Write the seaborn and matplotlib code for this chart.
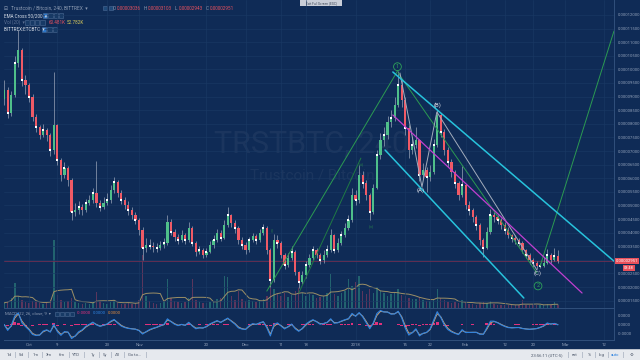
import numpy as np
import pandas as pd
import matplotlib
matplotlib.use("Agg")
import matplotlib.pyplot as plt
import matplotlib.transforms as mtransforms
from matplotlib.patches import Rectangle
import seaborn as sns

# ---------------- data (prices in satoshi = 1e-8 BTC, daily bars) ----------------
dates = pd.date_range("2017-09-24", "2018-02-27", freq="D")
day = (dates - pd.Timestamp("2017-10-01")).days.values

open_sat = [8900, 9240, 8400, 9060, 10240, 10710, 9610,
            9430, 8990, 8250, 7880, 7590, 7770, 7590, 7040, 7960, 6670,
            6120, 6380, 5930, 4760, 4830, 4940, 4830, 5090, 5200, 5460,
            5090, 4940, 5090, 5200, 5570, 5860, 5460, 5200, 5020, 4830,
            4650, 4460, 4100, 3440, 3550, 3520, 3470, 3450, 3550, 3620,
            4390, 4020, 3840, 3730, 3910, 3730, 4170, 3620, 3290, 3360,
            3180, 3290, 3550, 3730, 3990, 3800, 4280, 4650, 4350, 4170,
            3730, 3550, 3360, 3730, 3880, 3730, 3990, 4170, 3360, 2260,
            3730, 3620, 3180, 2810, 3070, 3290, 2550, 2180, 2440, 2810,
            3070, 3360, 3180, 2990, 3180, 3360, 3910, 3360, 3620, 3910,
            4170, 4460, 5380, 5200, 6120, 5820, 5380, 4760, 5640, 6850,
            7400, 7590, 8070, 8210, 8690, 9430, 8880, 7850, 7040, 7220,
            7400, 6120, 6300, 6050, 6230, 7220, 8320, 7700, 7040, 6600,
            6230, 5820, 5380, 5750, 5020, 4830, 4570, 4280, 3730, 3440,
            4020, 4650, 4570, 4460, 4280, 4100, 3910, 3800, 3730, 3620,
            3360, 3180, 2990, 2880, 2770, 2790, 2880, 3180, 2990, 3140]
close_sat = [9240, 8400, 9060, 10240, 10710, 9610, 9430,
             8990, 8250, 7880, 7590, 7770, 7590, 7040, 7960, 6670, 6120,
             6380, 5930, 4760, 4830, 4940, 4830, 5090, 5200, 5460, 5090,
             4940, 5090, 5200, 5570, 5860, 5460, 5200, 5020, 4830, 4650,
             4460, 4100, 3440, 3550, 3520, 3470, 3450, 3550, 3620, 4390,
             4020, 3840, 3730, 3910, 3730, 4170, 3620, 3290, 3360, 3180,
             3290, 3550, 3730, 3990, 3800, 4280, 4650, 4350, 4170, 3730,
             3550, 3360, 3730, 3880, 3730, 3990, 4170, 3360, 2260, 3730,
             3620, 3180, 2810, 3070, 3290, 2550, 2180, 2440, 2810, 3070,
             3360, 3180, 2990, 3180, 3360, 3910, 3360, 3620, 3910, 4170,
             4460, 5380, 5200, 6120, 5820, 5380, 4760, 5640, 6850, 7400,
             7590, 8070, 8210, 8690, 9430, 8880, 7850, 7040, 7220, 7400,
             6120, 6300, 6050, 6230, 7220, 8320, 7700, 7040, 6600, 6230,
             5820, 5380, 5750, 5020, 4830, 4570, 4280, 3730, 3440, 4020,
             4650, 4570, 4460, 4280, 4100, 3910, 3800, 3730, 3620, 3360,
             3180, 2990, 2880, 2770, 2790, 2880, 3180, 2990, 3140, 2951]
high_sat = [9600, 9350, 9200, 10500, 11450, 10800, 9800,
            9500, 9100, 8350, 7950, 8000, 7850, 7650, 9900, 8000, 6750,
            6600, 6450, 6000, 5100, 5150, 5050, 5250, 5400, 5650, 6640,
            5200, 5300, 5450, 5750, 6050, 5950, 5550, 5300, 5150, 4950,
            4750, 4550, 4200, 3800, 3750, 3650, 3620, 3700, 3800, 4650,
            4500, 4150, 3950, 4100, 4000, 4400, 4250, 3700, 3500, 3450,
            3450, 3700, 3900, 4150, 4100, 4450, 4950, 4700, 4450, 4250,
            3850, 3650, 3850, 4000, 3950, 4150, 4300, 4250, 3450, 3950,
            3900, 3700, 3250, 3250, 3500, 3350, 2600, 2600, 2950, 3200,
            3500, 3450, 3250, 3350, 3550, 4150, 3950, 3800, 4050, 4350,
            4650, 5650, 5550, 6500, 6250, 5950, 5450, 5800, 7050, 7650,
            7900, 8300, 8500, 9000, 9950, 9600, 9000, 7950, 7500, 7900,
            7450, 6550, 6400, 6500, 7450, 8500, 8400, 7800, 7150, 6700,
            6300, 5900, 6450, 5800, 5150, 4900, 4650, 4350, 3800, 4200,
            4850, 4750, 4650, 4550, 4400, 4200, 3950, 3900, 3800, 3700,
            3400, 3250, 3050, 2950, 2900, 3100, 3400, 3250, 3450, 3350]
low_sat = [8700, 8200, 8300, 9000, 10100, 9400, 9100,
           8800, 8100, 7700, 7450, 7500, 7350, 6800, 6900, 6500, 5900,
           6000, 5700, 4450, 4600, 4700, 4650, 4750, 5000, 5100, 4950,
           4800, 4850, 5000, 5100, 5450, 5300, 5050, 4850, 4650, 4500,
           4300, 3900, 2990, 3300, 3400, 3300, 3300, 3350, 3450, 3550,
           3900, 3700, 3600, 3650, 3600, 3650, 3500, 3150, 3200, 3050,
           3100, 3250, 3450, 3650, 3700, 3750, 4200, 4200, 4000, 3600,
           3400, 3200, 3300, 3650, 3600, 3650, 3900, 3200, 2000, 2200,
           3450, 3050, 2650, 2750, 3000, 2450, 1970, 2100, 2350, 2750,
           3000, 3050, 2850, 2900, 3100, 3300, 3250, 3300, 3550, 3850,
           4100, 4400, 5000, 5100, 5650, 5200, 4450, 4700, 5600, 6700,
           7200, 7450, 7900, 8100, 8600, 8600, 7600, 6750, 6900, 7100,
           5900, 6000, 5500, 5900, 6150, 7150, 7500, 6850, 6400, 6050,
           5650, 5200, 5300, 4850, 4650, 4400, 4100, 3550, 3100, 3400,
           3950, 4400, 4300, 4150, 3950, 3800, 3650, 3600, 3500, 3250,
           3050, 2850, 2750, 2650, 2700, 2750, 2850, 2900, 2950, 2900]
volume_k = [60, 80, 120, 290, 140, 90, 70,
            60, 80, 70, 60, 50, 70, 90, 800, 150, 90,
            70, 80, 120, 70, 60, 50, 60, 50, 70, 190,
            80, 60, 50, 70, 90, 60, 50, 50, 60, 50,
            60, 90, 620, 140, 80, 60, 50, 60, 70, 340,
            120, 80, 70, 60, 70, 120, 340, 90, 70, 60,
            60, 70, 80, 100, 120, 370, 360, 140, 90, 200,
            100, 80, 90, 80, 70, 90, 100, 140, 300, 220,
            160, 140, 180, 130, 150, 200, 240, 170, 140, 160,
            150, 120, 130, 140, 180, 400, 160, 140, 180, 200,
            340, 260, 300, 370, 200, 160, 220, 180, 240, 200,
            170, 140, 160, 180, 220, 150, 140, 120, 100, 110,
            130, 90, 80, 80, 100, 220, 120, 90, 70, 60,
            70, 60, 90, 60, 50, 50, 40, 60, 70, 60,
            80, 50, 40, 40, 40, 30, 40, 30, 40, 90,
            40, 30, 40, 40, 30, 40, 50, 30, 70, 40]

price_ticks = [1500, 2000, 2500, 3000, 3500, 4000, 4500, 5000, 5500, 6000, 6500,
               7000, 7500, 8000, 8500, 9000, 9500, 10000, 10500, 11000, 11500, 12000]
time_tick_days = [0, 8, 22, 31, 50, 61, 71, 78, 92, 106, 113, 123, 134, 142, 151, 162]
time_tick_labels = ["Oct", "9", "23", "Nov", "20", "Dec", "11", "18", "2018",
                    "15", "22", "Feb", "12", "20", "Mar", "12"]

# drawing tools (day, satoshi anchors)
wave1_day, wave1_sat = [67, 104], [1850, 9980]
sub_day, sub_sat = [76, 93.5], [1780, 6740]
wave2_day, wave2_sat = [104, 143.1], [9868, 2516]
proj_day, proj_sat = [144, 164.8], [2773, 11411]
abc_day, abc_sat = [104.5, 110.7, 114.9, 143.1], [9868, 5677, 8434, 2625]
chan_up_day, chan_up_sat = [102.5, 164.8], [9904, 2951]
chan_lo_day, chan_lo_sat = [100.3, 139.4], [7037, 1597]
mid_day, mid_sat = [102.5, 155.8], [8324, 1780]

# ---------------- style ----------------
sns.set_theme(style="dark")
plt.rcParams["font.family"] = ["Roboto", "DejaVu Sans"]
BG = "#0f2b56"
GRID = "#1a3964"
AXC = "#8f9fb8"
UP, DOWN, WICK = "#4fbf8a", "#ef5a66", "#9aa4b8"

W, H = 640, 360
fig = plt.figure(figsize=(6.4, 3.6), dpi=100, facecolor=BG)

def frect(x0, y0, x1, y1):
    return [x0 / W, 1 - y1 / H, (x1 - x0) / W, (y1 - y0) / H]

def ftext(x, y, s, **kw):
    kw.setdefault("va", "center")
    kw.setdefault("fontsize", 3.3)
    return fig.text(x / W, 1 - y / H, s, **kw)

ax = fig.add_axes(frect(4, 0, 614, 308))
axv = ax.twinx()
ax.set_zorder(2)
axv.set_zorder(1)
ax.patch.set_visible(False)
axv.patch.set_visible(False)

o = np.array(open_sat, float); c = np.array(close_sat, float)
h = np.array(high_sat, float); l = np.array(low_sat, float)
vol = np.array(volume_k, float)
up = c >= o
col = np.where(up, UP, DOWN)

# volume (overlay) with its moving average
axv.bar(day, vol, width=0.4, color=np.where(up, "#2f8a80", "#8e3f62"), alpha=0.6, linewidth=0)
vol_ma = pd.Series(vol).rolling(6, min_periods=1).mean()
sns.lineplot(x=day, y=vol_ma.values, ax=axv, color="#9c8f66", lw=0.7)
axv.set_ylim(0, 3600)
axv.set_yticks([]); axv.set_ylabel("")
for s in axv.spines.values():
    s.set_visible(False)

# watermark
ax.text(0.505, 1 - 144 / 308, "TRSTBTC, 240", transform=ax.transAxes, ha="center", va="center",
        fontsize=22, color="white", alpha=0.05, zorder=0)
ax.text(0.505, 1 - 176 / 308, "Trustcoin / Bitcoin", transform=ax.transAxes, ha="center", va="center",
        fontsize=11, color="white", alpha=0.05, zorder=0)

# current price line
ax.axhline(close_sat[-1], color="#6e2f52", lw=0.6, zorder=1)

# candles
ax.vlines(day, l, h, color=WICK, lw=0.5, zorder=3)
ax.bar(day, np.maximum(np.abs(c - o), 20), bottom=np.minimum(o, c), width=0.62,
       color=col, linewidth=0, zorder=4)
ax.scatter(day[1::2], c[1::2], s=0.9, marker="s", color="white", zorder=5, linewidths=0)

# drawings
ax.plot(wave1_day, wave1_sat, color="#2b9a52", lw=0.7, zorder=6)
ax.plot(sub_day, sub_sat, color="#1f7a45", lw=0.7, zorder=6)
ax.plot(wave2_day, wave2_sat, color="#2b9a52", lw=0.7, zorder=6)
ax.plot(proj_day, proj_sat, color="#2b9a52", lw=0.7, zorder=6)
ax.plot(abc_day, abc_sat, color="#a3adbd", lw=0.7, zorder=6)
ax.plot(chan_up_day, chan_up_sat, color="#27c3dc", lw=1.1, zorder=6)
ax.plot(chan_lo_day, chan_lo_sat, color="#27c3dc", lw=1.1, zorder=6)
ax.plot(mid_day, mid_sat, color="#c13fd0", lw=0.9, zorder=6)

circ = dict(boxstyle="circle,pad=0.25", fc=BG, ec="#2ea35a", lw=0.6)
ax.text(103.8, 10100, "1", color="#2ea35a", fontsize=4, ha="center", va="center", bbox=circ, zorder=7)
ax.text(143.4, 2040, "2", color="#2ea35a", fontsize=4, ha="center", va="center", bbox=circ, zorder=7)
for dd, ss, t in [(110.4, 5550, "(A)"), (115.2, 8690, "(B)"), (143.4, 2520, "(C)")]:
    ax.text(dd, ss, t, color="#d8dde6", fontsize=4.3, ha="center", va="center", zorder=7)
for dd, ss, t in [(68.7, 4096, "(i)"), (93.5, 6520, "(iii)"), (96.3, 4240, "(iv)")]:
    ax.text(dd, ss, t, color="#2a8a4c", fontsize=2.6, ha="center", va="center", zorder=7)

ax.set_xlim(-7.04, 164.8)
ax.set_ylim(1229, 12551)
ax.set_xticks(time_tick_days)
ax.set_xticklabels([])
ax.set_yticks(price_ticks)
ax.yaxis.tick_right()
last_tick_hidden = 3000  # covered by the last-price badge
ax.yaxis.set_major_formatter(matplotlib.ticker.FuncFormatter(
    lambda v, p: "" if abs(v - last_tick_hidden) < 1 else f"{v * 1e-8:.8f}"))
ax.tick_params(axis="y", labelsize=3, colors=AXC, length=0, pad=2.5)
ax.tick_params(axis="x", length=0)
ax.grid(True, color=GRID, lw=0.45)
for k, s in ax.spines.items():
    s.set_visible(k in ("right", "bottom"))
    s.set_color("#31507c"); s.set_linewidth(0.7)

# ---------------- MACD pane (12/26/9 on 4h bars = 2/4.33/1.5 days) ----------------
ax2 = fig.add_axes(frect(4, 309, 614, 340), facecolor=BG)
cs = pd.Series(c)
macd = cs.ewm(span=2, adjust=False).mean() - cs.ewm(span=26 / 6, adjust=False).mean()
signal = macd.ewm(span=1.5, adjust=False).mean()
hist = macd - signal
ax2.bar(day, hist.values, width=0.8, color="#e0317c", linewidth=0, zorder=2)
sns.lineplot(x=day, y=signal.values, ax=ax2, color="#c9a277", lw=0.7, zorder=3)
sns.lineplot(x=day, y=macd.values, ax=ax2, color="#2f83e0", lw=0.8, zorder=4)
m = float(np.abs(macd).max()) * 1.1
ax2.set_ylim(-m, m)
ax2.set_xlim(-7.04, 164.8)
ax2.set_ylabel("")
ax2.yaxis.tick_right()
ax2.set_yticks([0.6 * m, 0, -0.6 * m])
ax2.set_yticklabels(["0.0000", "0.0000", "-0.0000"])
ax2.set_xticks(time_tick_days)
ax2.set_xticklabels(time_tick_labels)
ax2.tick_params(axis="y", labelsize=3, colors=AXC, length=0, pad=2.5)
ax2.tick_params(axis="x", labelsize=3.2, colors=AXC, length=0, pad=2.5)
ax2.grid(True, axis="x", color=GRID, lw=0.45)
ax2.grid(False, axis="y")
for k, s in ax2.spines.items():
    s.set_visible(k in ("right", "bottom"))
    s.set_color("#31507c"); s.set_linewidth(0.7)

# ---------------- price labels on axis ----------------
trans = mtransforms.blended_transform_factory(fig.transFigure, ax.transData)
fig.text(615.5 / W, close_sat[-1], f"{close_sat[-1] * 1e-8:.8f}", transform=trans, fontsize=3,
         color="white", va="center", ha="left", zorder=10,
         bbox=dict(boxstyle="square,pad=0.2", fc="#e8505b", ec="none"))
trans2 = trans + mtransforms.ScaledTranslation(0, -0.068, fig.dpi_scale_trans)
fig.text(624 / W, close_sat[-1], "03:48", transform=trans2, fontsize=2.8,
         color="white", va="center", ha="left", zorder=10,
         bbox=dict(boxstyle="square,pad=0.2", fc="#e8505b", ec="none"))

# ---------------- legends (top-left) ----------------
GREYT = "#8d9bb3"
ftext(4, 8, "⊟", color=GREYT, fontsize=3.5, family="DejaVu Sans")
ftext(11, 8, "Trustcoin / Bitcoin, 240, BITTREX  ▾", color=GREYT, fontsize=3.5)
for x0 in (103, 108.5):
    fig.patches.append(Rectangle((x0 / W, 1 - 10.3 / H), 4 / W, 4.4 / H, transform=fig.transFigure,
                                 fc="#1f4a7a", ec="#4d6c95", lw=0.4))
xs = [113, 144, 175, 206]
for x0, lab, val in zip(xs, "OHLC", ["0.00003036", "0.00003103", "0.00002943", "0.00002951"]):
    ftext(x0, 8, lab, color=GREYT, fontsize=3.3)
    ftext(x0 + 3.5, 8, val, color="#e5505e", fontsize=3.3)

ftext(4, 15.5, "EMA Cross 50/200  ▾", color="#d5dbe5", fontsize=3.3)
ftext(4, 22.5, "Vol (20)  ▾", color="#5f7396", fontsize=3.3)
ftext(49, 22.5, "60.481K", color="#e5505e", fontsize=3.3)
ftext(67, 22.5, "52.782K", color="#d8c95a", fontsize=3.3)
ftext(4, 29.5, "BITTREX:ETCBTC  ▾", color="#d5dbe5", fontsize=3.3)
for (x0, y0, n) in [(43, 15.5, 4), (24.5, 22.5, 4), (42, 29.5, 3)]:
    for i in range(n):
        fc = "#2b76c9" if i == 0 and y0 != 22.5 else "#173a66"
        fig.patches.append(Rectangle(((x0 + i * 5.3) / W, 1 - (y0 + 2.1) / H), 4.2 / W, 4.2 / H,
                                     transform=fig.transFigure, fc=fc, ec="#4d6c95", lw=0.4))

ftext(5, 313.5, "MACD  12, 26, close, 9  ▾", color=GREYT, fontsize=3.1)
for i in range(4):
    fig.patches.append(Rectangle(((55 + i * 5) / W, 1 - 315.5 / H), 4 / W, 4 / H,
                                 transform=fig.transFigure, fc="#173a66", ec="#4d6c95", lw=0.4))
ftext(77, 313.5, "-0.0000", color="#e0317c", fontsize=3.1)
ftext(93, 313.5, "0.0000", color="#2f83e0", fontsize=3.1)
ftext(108, 313.5, "0.0000", color="#e08a3c", fontsize=3.1)

# tooltip
fig.patches.append(Rectangle((300 / W, 1 - 5.5 / H), 42 / W, 5.5 / H, transform=fig.transFigure,
                             fc="#c9ced8", ec="none"))
ftext(321, 2.8, "Exit Full Screen (ESC)", color="#3c4656", fontsize=2.3, ha="center")

# ---------------- bottom toolbar ----------------
fig.patches.append(Rectangle((0, 0), 1, 10 / H, transform=fig.transFigure, fc="#e6e9ee", ec="none"))
fig.patches.append(Rectangle((0, 10 / H), 1, 0.6 / H, transform=fig.transFigure, fc="#b9c0cc", ec="none"))
tb = [(9, "1d"), (21, "5d"), (35.5, "1m"), (49, "3m"), (62, "6m"), (76, "YTD"), (93, "1y"),
      (105, "5y"), (117.5, "All"), (135, "Go to...")]
for x0, t in tb:
    ftext(x0, 355, t, color="#4a5568", fontsize=3.1, ha="center")
for xs_ in (15, 28, 42, 55.5, 69, 84, 99, 111, 124, 146):
    fig.patches.append(Rectangle((xs_ / W, 2 / H), 0.5 / W, 6 / H,
                                 transform=fig.transFigure, fc="#b9c0cc", ec="none"))
for x0, t, cc in [(547, "23:56:11 (UTC-5)", "#4a5568"), (575, "ext", "#4a5568"), (589, "%", "#4a5568"),
                  (602, "log", "#4a5568"), (615, "auto", "#2f83e0"), (631, "⚙", "#4a5568")]:
    ftext(x0, 355, t, color=cc, fontsize=3.1, ha="center",
          family=["Roboto", "DejaVu Sans"])
for xs_ in (568, 582, 595, 608, 623):
    fig.patches.append(Rectangle((xs_ / W, 2 / H), 0.5 / W, 6 / H,
                                 transform=fig.transFigure, fc="#b9c0cc", ec="none"))

fig.savefig("out.png", dpi=100, facecolor=BG)
